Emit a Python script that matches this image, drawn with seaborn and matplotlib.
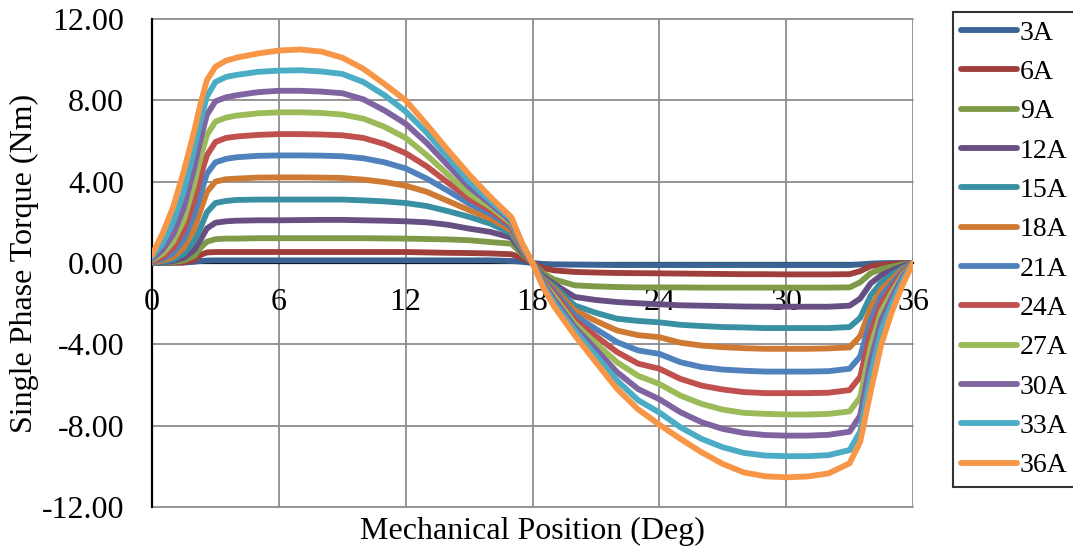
import numpy as np
import pandas as pd
import seaborn as sns
import matplotlib
matplotlib.use("Agg")
import matplotlib.pyplot as plt
from matplotlib.ticker import FormatStrFormatter, MultipleLocator
from matplotlib.lines import Line2D

# ---------------- data ----------------
position = [0, 0.5, 1, 1.5, 2, 2.3, 2.6, 3, 3.5,
            4, 5, 6, 7, 8, 9, 10, 11, 12, 13, 14, 15, 16, 17,
            17.5, 18, 18.5,
            19, 20, 21, 22, 23, 24, 25, 26, 27, 28, 29, 30, 31, 32, 33,
            33.5, 34, 34.5, 35, 35.5, 36]

currents = ["3A", "6A", "9A", "12A", "15A", "18A", "21A", "24A", "27A", "30A", "33A", "36A"]

torque_3A = [0, 0, 0.01, 0.02, 0.06, 0.1, 0.12, 0.13, 0.13,
             0.13, 0.13, 0.13, 0.13, 0.13, 0.13, 0.13, 0.13, 0.13, 0.13, 0.13, 0.13, 0.13, 0.1,
             0.06, 0, -0.05,
             -0.07, -0.08, -0.09, -0.1, -0.1, -0.1, -0.1, -0.1, -0.1, -0.1, -0.1, -0.1, -0.1, -0.1, -0.1,
             -0.07, -0.03, -0.01, 0, 0, 0]
torque_6A = [0, 0.01, 0.02, 0.03, 0.15, 0.4, 0.52, 0.54, 0.54,
             0.54, 0.54, 0.54, 0.54, 0.54, 0.54, 0.54, 0.54, 0.54, 0.52, 0.5, 0.49, 0.47, 0.43,
             0.25, 0, -0.25,
             -0.36, -0.44, -0.47, -0.49, -0.5, -0.51, -0.52, -0.53, -0.54, -0.55, -0.55, -0.56, -0.56, -0.56, -0.55,
             -0.4, -0.15, -0.08, -0.05, -0.02, 0]
torque_9A = [0, 0.02, 0.05, 0.12, 0.35, 0.75, 1.05, 1.17, 1.2,
             1.2, 1.22, 1.22, 1.22, 1.22, 1.22, 1.22, 1.21, 1.2, 1.18, 1.16, 1.12, 1.03, 0.95,
             0.45, 0, -0.5,
             -0.8, -1.1, -1.15, -1.18, -1.2, -1.2, -1.2, -1.21, -1.21, -1.21, -1.21, -1.21, -1.21, -1.21, -1.2,
             -0.95, -0.5, -0.3, -0.18, -0.08, 0]
torque_12A = [0, 0.03, 0.1, 0.25, 0.65, 1.15, 1.7, 1.98, 2.05,
              2.08, 2.1, 2.1, 2.11, 2.12, 2.12, 2.1, 2.08, 2.05, 2.0, 1.88, 1.69, 1.53, 1.25,
              0.55, 0, -0.65,
              -1.02, -1.67, -1.82, -1.92, -1.98, -2.03, -2.08, -2.1, -2.12, -2.14, -2.15, -2.15, -2.15, -2.15, -2.1,
              -1.75, -1.0, -0.6, -0.36, -0.15, 0]
torque_15A = [0.02, 0.06, 0.18, 0.45, 1.1, 1.75, 2.5, 2.95, 3.05,
              3.1, 3.12, 3.12, 3.12, 3.12, 3.12, 3.08, 3.03, 2.95, 2.8, 2.55, 2.27, 1.94, 1.45,
              0.65, 0, -0.75,
              -1.13, -2.09, -2.45, -2.74, -2.85, -2.92, -3.04, -3.1, -3.15, -3.17, -3.2, -3.2, -3.2, -3.2, -3.15,
              -2.7, -1.6, -0.95, -0.58, -0.25, 0]
torque_18A = [0.05, 0.12, 0.3, 0.75, 1.7, 2.6, 3.5, 4.0, 4.12,
              4.15, 4.2, 4.21, 4.21, 4.2, 4.18, 4.1, 3.98, 3.8, 3.5, 3.05, 2.6, 2.19, 1.6,
              0.7, 0, -0.8,
              -1.23, -2.33, -2.85, -3.32, -3.55, -3.65, -3.92, -4.06, -4.14, -4.19, -4.22, -4.22, -4.22, -4.2, -4.15,
              -3.6, -2.2, -1.3, -0.8, -0.33, 0]
torque_21A = [0.08, 0.2, 0.5, 1.15, 2.4, 3.4, 4.4, 4.95, 5.12,
              5.2, 5.27, 5.29, 5.29, 5.28, 5.25, 5.15, 4.95, 4.65, 4.15, 3.55, 2.92, 2.43, 1.75,
              0.75, 0, -0.85,
              -1.35, -2.58, -3.25, -3.89, -4.3, -4.47, -4.88, -5.12, -5.24, -5.3, -5.34, -5.34, -5.34, -5.32, -5.2,
              -4.6, -2.8, -1.65, -1.0, -0.42, 0]
torque_24A = [0.1, 0.3, 0.75, 1.6, 3.1, 4.3, 5.3, 5.95, 6.15,
              6.22, 6.3, 6.34, 6.34, 6.32, 6.28, 6.15, 5.85, 5.4, 4.75, 3.95, 3.17, 2.6, 1.85,
              0.8, 0, -0.9,
              -1.46, -2.82, -3.6, -4.38, -4.95, -5.2, -5.7, -6.03, -6.22, -6.35, -6.4, -6.4, -6.4, -6.38, -6.25,
              -5.6, -3.4, -2.0, -1.2, -0.5, 0]
torque_27A = [0.15, 0.45, 1.05, 2.1, 3.9, 5.2, 6.3, 6.95, 7.15,
              7.25, 7.36, 7.41, 7.41, 7.38, 7.3, 7.1, 6.7, 6.15, 5.3, 4.35, 3.41, 2.76, 1.95,
              0.85, 0, -0.95,
              -1.6, -2.99, -3.95, -4.88, -5.55, -5.95, -6.52, -6.93, -7.21, -7.37, -7.42, -7.45, -7.45, -7.42, -7.3,
              -6.6, -4.1, -2.4, -1.45, -0.6, 0]
torque_30A = [0.2, 0.65, 1.4, 2.7, 4.7, 6.1, 7.3, 7.95, 8.15,
              8.25, 8.4, 8.47, 8.47, 8.43, 8.35, 8.05, 7.5, 6.85, 5.9, 4.8, 3.74, 2.92, 2.05,
              0.9, 0, -1.0,
              -1.76, -3.15, -4.25, -5.37, -6.2, -6.7, -7.34, -7.83, -8.16, -8.36, -8.46, -8.49, -8.49, -8.45, -8.3,
              -7.5, -4.8, -2.8, -1.7, -0.7, 0]
torque_33A = [0.3, 0.95, 2.0, 3.5, 5.6, 7.0, 8.2, 8.9, 9.15,
              9.25, 9.4, 9.46, 9.48, 9.42, 9.3, 8.9, 8.25, 7.45, 6.4, 5.2, 4.0, 3.05, 2.15,
              0.95, 0, -1.1,
              -1.92, -3.32, -4.55, -5.78, -6.75, -7.35, -8.08, -8.65, -9.06, -9.34, -9.47, -9.5, -9.5, -9.45, -9.2,
              -8.3, -5.5, -3.3, -2.0, -0.85, 0]
torque_36A = [0.4, 1.45, 2.75, 4.5, 6.5, 7.85, 9.0, 9.65, 9.95,
              10.1, 10.3, 10.45, 10.5, 10.4, 10.1, 9.55, 8.8, 8.0, 6.8, 5.55, 4.35, 3.25, 2.25,
              1.0, 0, -1.2,
              -2.1, -3.56, -4.88, -6.19, -7.2, -7.95, -8.65, -9.31, -9.88, -10.3, -10.49, -10.54, -10.5, -10.35, -9.85,
              -8.8, -6.3, -4.0, -2.4, -1.1, 0]

series = [torque_3A, torque_6A, torque_9A, torque_12A, torque_15A, torque_18A,
          torque_21A, torque_24A, torque_27A, torque_30A, torque_33A, torque_36A]

colors = ["#3B6396", "#9E3F3C", "#7E9A48", "#674F84", "#3A90A3", "#CE7A33",
          "#4F81BD", "#C0504D", "#9BBB59", "#8064A2", "#4BACC6", "#F79646"]

rows = []
for cur, vals in zip(currents, series):
    for xv, yv in zip(position, vals):
        rows.append({"Position": xv, "Torque": yv, "Current": cur})
df = pd.DataFrame(rows)

# ---------------- plot ----------------
sns.set_theme(style="white")
plt.rcParams["font.family"] = ["Liberation Serif", "DejaVu Serif"]
plt.rcParams["axes.unicode_minus"] = False
plt.rcParams["text.color"] = "black"
plt.rcParams["axes.labelcolor"] = "black"
plt.rcParams["xtick.color"] = "black"
plt.rcParams["ytick.color"] = "black"

fig = plt.figure(figsize=(10.73, 5.48), dpi=100)
ax = fig.add_axes([152 / 1073, 1 - 507 / 548, (913 - 152) / 1073, (507 - 19) / 548])

LW = 4.2
sns.lineplot(data=df, x="Position", y="Torque", hue="Current", hue_order=currents,
             palette=colors, linewidth=LW, ax=ax, legend=False, sort=True,
             estimator=None, solid_capstyle="round", solid_joinstyle="round")

ax.set_xlim(0, 36)
ax.set_ylim(-12, 12)
ax.xaxis.set_major_locator(MultipleLocator(6))
ax.yaxis.set_major_locator(MultipleLocator(4))
ax.yaxis.set_major_formatter(FormatStrFormatter("%.2f"))

ax.grid(True, color="#8C8C8C", linewidth=1.3)
ax.set_axisbelow(True)
for gl in ax.get_xgridlines() + ax.get_ygridlines():
    gl.set_clip_on(False)

for side in ["top", "right"]:
    ax.spines[side].set_visible(False)
ax.spines["left"].set_color("black")
ax.spines["left"].set_linewidth(1.6)
ax.spines["left"].set_zorder(0.6)
ax.spines["bottom"].set_position(("data", 0))
ax.spines["bottom"].set_color("black")
ax.spines["bottom"].set_linewidth(1.6)
ax.spines["bottom"].set_zorder(0.6)

ax.tick_params(axis="both", length=0, labelsize=23, colors="black")
ax.tick_params(axis="x", pad=18)
ax.tick_params(axis="y", pad=20)

ax.set_xlabel("Mechanical Position (Deg)", fontsize=23, color="black")
ax.xaxis.set_label_coords(0.5, -0.02)
ax.set_ylabel("Single Phase Torque (Nm)", fontsize=23, color="black")
ax.yaxis.set_label_coords(-0.148, 0.5)

handles = [Line2D([0], [0], color=c, linewidth=LW, solid_capstyle="round") for c in colors]
leg = fig.legend(handles, currents, loc="upper left",
                 bbox_to_anchor=(953 / 1073, 1 - 12 / 548),
                 fontsize=20, frameon=True, fancybox=False, edgecolor="black",
                 handlelength=2.0, handletextpad=0.1, labelspacing=0.5,
                 borderpad=0.3, borderaxespad=0)
leg.get_frame().set_linewidth(1.5)
for t in leg.get_texts():
    t.set_color("black")

fig.savefig("out.png", dpi=100)
